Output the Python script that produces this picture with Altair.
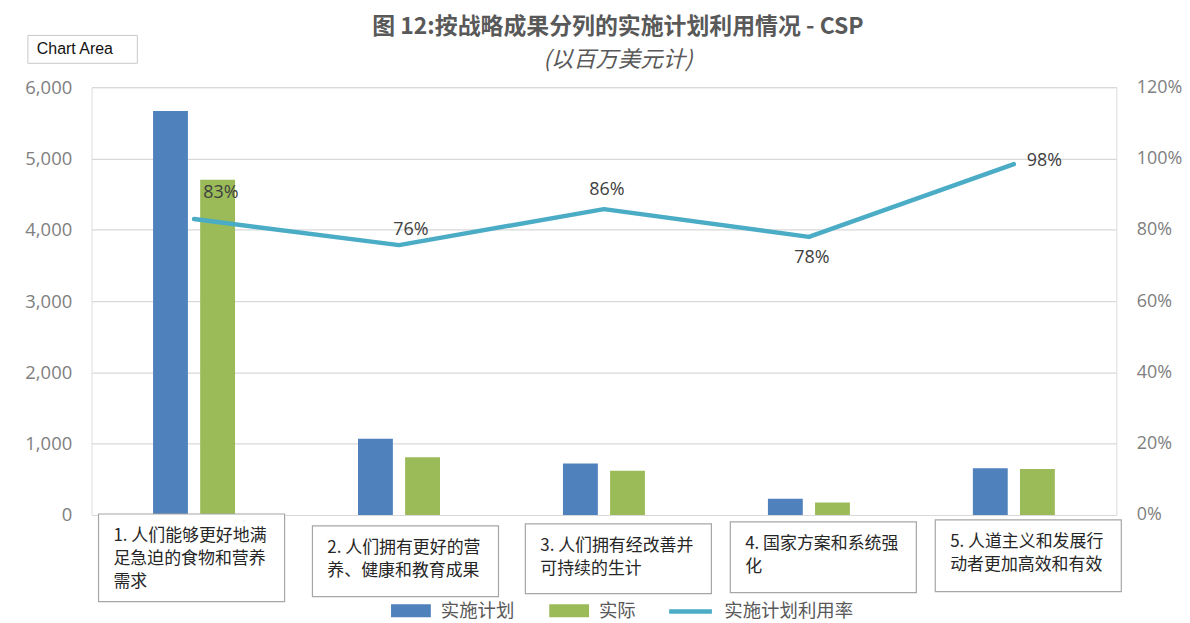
import altair as alt
import pandas as pd

# ---------------- data ----------------
categories = [
    "1. 人们能够更好地满\n足急迫的食物和营养\n需求",
    "2. 人们拥有更好的营\n养、健康和教育成果",
    "3. 人们拥有经改善并\n可持续的生计",
    "4. 国家方案和系统强\n化",
    "5. 人道主义和发展行\n动者更加高效和有效",
]
plan_values = [5665, 1070, 721, 226, 656]
actual_values = [4702, 809, 619, 176, 646]
utilization = [0.83, 0.757, 0.858, 0.78, 0.984]
series_names = ["实施计划", "实际"]
line_name = "实施计划利用率"
left_ticks = [0, 1000, 2000, 3000, 4000, 5000, 6000]
right_ticks = [0, 0.2, 0.4, 0.6, 0.8, 1.0, 1.2]
title_text = "图 12:按战略成果分列的实施计划利用情况 - CSP"
subtitle_text = "(以百万美元计)"
tooltip_text = ["Chart Area"]

df = pd.DataFrame({"category": categories, "plan": plan_values,
                   "actual": actual_values, "rate": utilization})
long_df = pd.DataFrame({
    "category": categories * 2,
    "series": [series_names[0]] * len(categories) + [series_names[1]] * len(categories),
    "value": plan_values + actual_values,
})

# ---------------- styles / layout ----------------
FONT_CJK = "Noto Sans CJK SC"
FONT_NUM = "Open Sans"
BLUE, GREEN, TEAL = "#4F81BD", "#9BBB59", "#4BACC6"
AXIS_GRAY = "#808080"
TEXT_GRAY = "#595959"

# box layout per category: (top, bottom, horizontal shift) in plot pixels
box_layout = [(429, 517, -2.5), (441, 512, 6.5), (439, 509, 14.5),
              (437, 508, 14.5), (435, 507, 14.5)]
BOX_W = 187

x_enc = alt.X("category:N", sort=categories, axis=None,
              scale=alt.Scale(paddingInner=0.6, paddingOuter=0.3))

bars = alt.Chart(long_df).mark_bar().encode(
    x=x_enc,
    xOffset=alt.XOffset("series:N", sort=series_names,
                        scale=alt.Scale(paddingInner=0.26, paddingOuter=0)),
    y=alt.Y("value:Q", scale=alt.Scale(domain=[0, 6000], nice=False),
            axis=alt.Axis(orient="left", values=left_ticks,
                          labelExpr="format(datum.value, ',')", title=None,
                          grid=True, gridColor="#d9d9d9", gridWidth=1.2,
                          domain=False, ticks=False, labelPadding=20,
                          labelFont=FONT_NUM, labelFontSize=18.5,
                          labelColor=AXIS_GRAY)),
    color=alt.Color("series:N", sort=series_names,
                    scale=alt.Scale(domain=series_names, range=[BLUE, GREEN]),
                    legend=alt.Legend(title=None, orient="none", legendX=301,
                                      legendY=506, direction="horizontal",
                                      symbolType="M-1,-0.325H1V0.325H-1Z",
                                      symbolSize=1600, symbolStrokeWidth=0,
                                      labelFont=FONT_CJK, labelFontSize=18.5,
                                      labelColor=TEXT_GRAY, labelOffset=10,
                                      columnPadding=34, padding=0)),
)

box_layers = []
text_layers = []
for cat, (top, bottom, shift) in zip(categories, box_layout):
    sub = alt.Chart(df).transform_filter(
        alt.FieldEqualPredicate(field="category", equal=cat))
    box_layers.append(
        sub.mark_bar(width=BOX_W, fill="white", stroke="#a6a6a6",
                     strokeWidth=1.2, xOffset=shift).encode(
            x=x_enc, y=alt.value(top), y2=alt.value(bottom)))
    text_layers.append(
        sub.mark_text(align="left", baseline="top", lineBreak="\n",
                      lineHeight=23, font=FONT_CJK, fontSize=17,
                      color="#262626", dx=shift - BOX_W / 2 + 15).encode(
            x=x_enc, y=alt.value(top + 14), text="category:N"))

tip_data = pd.DataFrame({"t": tooltip_text})
tip_box = alt.Chart(tip_data).mark_rect(fill="white", stroke="#c8c8c8",
                                        strokeWidth=1).encode(
    x=alt.value(-64), x2=alt.value(46), y=alt.value(-52), y2=alt.value(-24))
tip_text = alt.Chart(tip_data).mark_text(align="left", baseline="middle",
                                         font="Liberation Sans", fontSize=16,
                                         color="#111111").encode(
    x=alt.value(-55), y=alt.value(-38), text="t:N")

left_group = alt.layer(bars, *box_layers, *text_layers, tip_box, tip_text)

y_rate = alt.Y("rate:Q", scale=alt.Scale(domain=[0, 1.2], nice=False),
               axis=alt.Axis(orient="right", values=right_ticks, format=".0%",
                             title=None, grid=False, domain=False, ticks=False,
                             labelPadding=20, labelFont=FONT_NUM,
                             labelFontSize=18, labelColor=AXIS_GRAY))

line = alt.Chart(df).transform_calculate(lname=f"'{line_name}'").mark_line(
    strokeWidth=4.5, strokeCap="round", strokeJoin="round").encode(
    x=x_enc, y=y_rate,
    stroke=alt.Stroke("lname:N",
                      scale=alt.Scale(domain=[line_name], range=[TEAL]),
                      legend=alt.Legend(title=None, orient="none", legendX=578,
                                        legendY=503, symbolType="stroke",
                                        symbolSize=1849, symbolStrokeWidth=4.5,
                                        labelFont=FONT_CJK, labelFontSize=18.5,
                                        labelColor=TEXT_GRAY, labelOffset=10,
                                        padding=0)),
)


def rate_labels(cats, **kw):
    return alt.Chart(df).transform_filter(
        alt.FieldOneOfPredicate(field="category", oneOf=cats)).mark_text(
        font=FONT_NUM, fontSize=18, color="#404040", **kw).encode(
        x=x_enc, y=y_rate, text=alt.Text("rate:Q", format=".0%"))


labels = [
    rate_labels([categories[0]], dx=27, dy=-26),
    rate_labels([categories[1]], dx=12, dy=-15),
    rate_labels([categories[2]], dx=3, dy=-19),
    rate_labels([categories[3]], dx=3, dy=21),
    rate_labels([categories[4]], align="left", dx=13, dy=-3),
]

right_group = alt.layer(line, *labels)

chart = alt.layer(left_group, right_group).resolve_scale(
    y="independent"
).properties(
    width=1030, height=430,
    padding={"left": 84, "top": 78, "right": 66, "bottom": 107},
    autosize=alt.AutoSizeParams(type="none"),
    title=alt.TitleParams(text=title_text, subtitle=subtitle_text,
                          anchor="middle", dx=14, offset=-37,
                          font=FONT_CJK, fontSize=23, fontWeight="bold",
                          color=TEXT_GRAY, subtitleFont=FONT_CJK,
                          subtitleFontSize=22.5, subtitleFontStyle="italic",
                          subtitleColor=TEXT_GRAY, subtitlePadding=10),
).configure_view(stroke=None).configure(background="white")

chart.save("out.html", embed_options={"renderer": "svg", "actions": False})
